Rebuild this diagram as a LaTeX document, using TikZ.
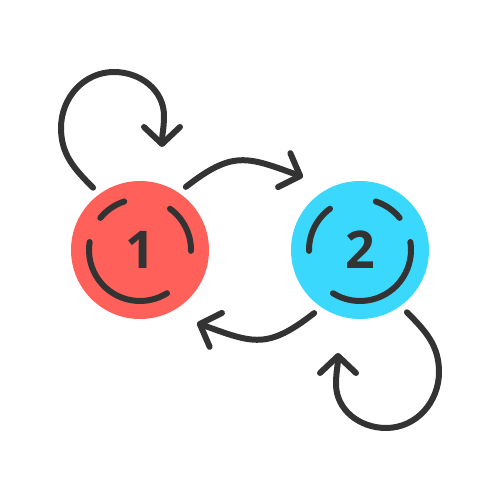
\documentclass[tikz,border=0pt]{standalone}
\usepackage{fontspec}
\setsansfont{Open Sans}
\usepackage{tikz}
\usetikzlibrary{arrows.meta, calc, positioning}

\definecolor{statered}{HTML}{FF615A}
\definecolor{stateblue}{HTML}{3BD8FD}
\definecolor{inkgray}{HTML}{333333}

\begin{document}
\begin{tikzpicture}[
    x=1pt, y=1pt,
    state/.style={circle, minimum size=138pt, inner sep=0pt, outer sep=9pt, text=inkgray,
        font=\sffamily\bfseries\fontsize{52}{52}\selectfont},
    ring/.style={draw=inkgray, line width=6pt, line cap=round},
    link/.style={draw=inkgray, line width=6pt, line cap=round,
        -{Straight Barb[length=17pt, width=36pt, line cap=round, line join=round]}}
]
\fill[white] (0,0) rectangle (500,500);

% States
\node[state, fill=statered] (s1) at (140,250) {1};
\node[state, fill=stateblue] (s2) at (360,250) {2};

% Dashed rings inside the states
\foreach \a/\b in {108/141, -1/54, 171/302}
    \draw[ring] ([shift={(\a:51)}]s1.center) arc[start angle=\a, end angle=\b, radius=51];
\foreach \a/\b in {39/72, 126/181, -122/9}
    \draw[ring] ([shift={(\a:51)}]s2.center) arc[start angle=\a, end angle=\b, radius=51];

% Arrow ends
\coordinate (tip_12) at (303,323);
\coordinate (tip_21) at (197,177);
\coordinate (tip_11) at (162,353);
\coordinate (tip_22) at (338,147);

% Transitions between the states
\draw[link] (s1.54) to[out=38, in=160, looseness=1.3] (tip_12);
\draw[link] (s2.-126) to[out=-142, in=-20, looseness=1.3] (tip_21);

% Self loops
\draw[link] (s1.127) to[out=135, in=-90] (61,372) to[out=90, in=180] (114,428)
    to[out=0, in=90] (164,384) to[out=-90, in=90] (tip_11);
\draw[link] (s2.-53) to[out=-45, in=90] (439,128) to[out=-90, in=0] (386,72)
    to[out=180, in=-90] (336,116) to[out=90, in=-90] (tip_22);

\end{tikzpicture}
\end{document}
